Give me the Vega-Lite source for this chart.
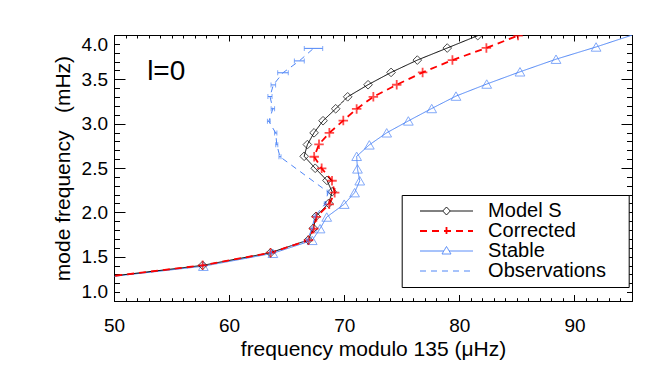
{
  "$schema": "https://vega.github.io/schema/vega-lite/v6.json",
  "width": 518,
  "height": 266,
  "autosize": {"type": "none"},
  "padding": {"left": 114, "top": 35, "right": 33, "bottom": 73},
  "background": "white",
  "config": {
    "view": {"stroke": "black", "strokeWidth": 1},
    "font": "Liberation Sans",
    "axis": {"labelFont": "Liberation Sans", "titleFont": "Liberation Sans", "labelColor": "black", "titleColor": "black", "tickColor": "black", "tickWidth": 1, "domain": false, "grid": false, "titleFontWeight": "normal", "labelOverlap": false}
  },
  "data": {"values": [
    {"s": "Stable", "x": 47.0, "y": 1.235},
    {"s": "Stable", "x": 57.76, "y": 1.392},
    {"s": "Stable", "x": 63.8, "y": 1.538},
    {"s": "Stable", "x": 67.22, "y": 1.684},
    {"s": "Stable", "x": 67.9, "y": 1.816},
    {"s": "Stable", "x": 68.48, "y": 1.947},
    {"s": "Stable", "x": 70.0, "y": 2.092},
    {"s": "Stable", "x": 70.9, "y": 2.222},
    {"s": "Stable", "x": 71.35, "y": 2.356},
    {"s": "Stable", "x": 71.15, "y": 2.49},
    {"s": "Stable", "x": 71.08, "y": 2.632},
    {"s": "Stable", "x": 72.18, "y": 2.761},
    {"s": "Stable", "x": 73.69, "y": 2.897},
    {"s": "Stable", "x": 75.57, "y": 3.031},
    {"s": "Stable", "x": 77.6, "y": 3.171},
    {"s": "Stable", "x": 79.71, "y": 3.311},
    {"s": "Stable", "x": 82.38, "y": 3.447},
    {"s": "Stable", "x": 85.27, "y": 3.585},
    {"s": "Stable", "x": 88.4, "y": 3.727},
    {"s": "Stable", "x": 91.88, "y": 3.865},
    {"s": "Stable", "x": 96.2, "y": 4.05},
    {"s": "Model S", "x": 47.0, "y": 1.237},
    {"s": "Model S", "x": 57.7, "y": 1.402},
    {"s": "Model S", "x": 63.6, "y": 1.545},
    {"s": "Model S", "x": 66.88, "y": 1.688},
    {"s": "Model S", "x": 67.32, "y": 1.82},
    {"s": "Model S", "x": 67.55, "y": 1.955},
    {"s": "Model S", "x": 68.65, "y": 2.101},
    {"s": "Model S", "x": 68.95, "y": 2.232},
    {"s": "Model S", "x": 68.5, "y": 2.36},
    {"s": "Model S", "x": 67.48, "y": 2.497},
    {"s": "Model S", "x": 66.52, "y": 2.632},
    {"s": "Model S", "x": 66.8, "y": 2.764},
    {"s": "Model S", "x": 67.38, "y": 2.897},
    {"s": "Model S", "x": 68.16, "y": 3.033},
    {"s": "Model S", "x": 69.26, "y": 3.168},
    {"s": "Model S", "x": 70.3, "y": 3.303},
    {"s": "Model S", "x": 72.07, "y": 3.439},
    {"s": "Model S", "x": 74.07, "y": 3.578},
    {"s": "Model S", "x": 76.35, "y": 3.717},
    {"s": "Model S", "x": 78.95, "y": 3.853},
    {"s": "Model S", "x": 81.6, "y": 3.993},
    {"s": "Model S", "x": 84.5, "y": 4.13},
    {"s": "Observations", "x": 63.6, "y": 1.543, "lo": 63.52, "hi": 63.68},
    {"s": "Observations", "x": 66.8, "y": 1.686, "lo": 66.72, "hi": 66.88},
    {"s": "Observations", "x": 67.2, "y": 1.818, "lo": 67.12, "hi": 67.28},
    {"s": "Observations", "x": 67.45, "y": 1.955, "lo": 67.37, "hi": 67.53},
    {"s": "Observations", "x": 68.35, "y": 2.097, "lo": 68.27, "hi": 68.43},
    {"s": "Observations", "x": 68.6, "y": 2.228, "lo": 68.52, "hi": 68.68},
    {"s": "Observations", "x": 64.42, "y": 2.627, "lo": 64.33, "hi": 64.51},
    {"s": "Observations", "x": 64.14, "y": 2.763, "lo": 64.05, "hi": 64.23},
    {"s": "Observations", "x": 64.05, "y": 2.894, "lo": 63.95, "hi": 64.15},
    {"s": "Observations", "x": 63.45, "y": 3.027, "lo": 63.33, "hi": 63.57},
    {"s": "Observations", "x": 63.8, "y": 3.168, "lo": 63.65, "hi": 63.95},
    {"s": "Observations", "x": 63.55, "y": 3.306, "lo": 63.37, "hi": 63.73},
    {"s": "Observations", "x": 63.84, "y": 3.437, "lo": 63.64, "hi": 64.04},
    {"s": "Observations", "x": 64.68, "y": 3.574, "lo": 64.22, "hi": 65.14},
    {"s": "Observations", "x": 66.1, "y": 3.708, "lo": 65.67, "hi": 66.53},
    {"s": "Observations", "x": 67.33, "y": 3.849, "lo": 66.53, "hi": 68.13},
    {"s": "Corrected", "x": 47.0, "y": 1.237},
    {"s": "Corrected", "x": 57.7, "y": 1.402},
    {"s": "Corrected", "x": 63.6, "y": 1.545},
    {"s": "Corrected", "x": 66.9, "y": 1.685},
    {"s": "Corrected", "x": 67.35, "y": 1.815},
    {"s": "Corrected", "x": 67.58, "y": 1.948},
    {"s": "Corrected", "x": 68.7, "y": 2.09},
    {"s": "Corrected", "x": 69.17, "y": 2.222},
    {"s": "Corrected", "x": 68.94, "y": 2.356},
    {"s": "Corrected", "x": 68.04, "y": 2.496},
    {"s": "Corrected", "x": 67.39, "y": 2.627},
    {"s": "Corrected", "x": 67.81, "y": 2.767},
    {"s": "Corrected", "x": 68.71, "y": 2.897},
    {"s": "Corrected", "x": 69.92, "y": 3.035},
    {"s": "Corrected", "x": 71.08, "y": 3.166},
    {"s": "Corrected", "x": 72.53, "y": 3.303},
    {"s": "Corrected", "x": 74.56, "y": 3.439},
    {"s": "Corrected", "x": 76.81, "y": 3.578},
    {"s": "Corrected", "x": 79.4, "y": 3.717},
    {"s": "Corrected", "x": 82.35, "y": 3.854},
    {"s": "Corrected", "x": 85.1, "y": 3.993},
    {"s": "Corrected", "x": 88.3, "y": 4.13}
  ]},
  "layer": [
    {
      "mark": {"type": "line", "clip": true},
      "encoding": {
        "x": {"field": "x", "type": "quantitative", "scale": {"domain": [50, 95], "nice": false, "zero": false},
          "axis": {"orient": "bottom", "values": [50, 60, 70, 80, 90], "format": "d",
            "tickSize": -6.5, "labelPadding": 22, "labelFontSize": 19, "labelFlush": false,
            "title": "frequency modulo 135 (μHz)", "titleFontSize": 21, "titleY": 54, "titleBaseline": "alphabetic"}},
        "y": {"field": "y", "type": "quantitative", "scale": {"domain": [1, 4], "nice": false, "zero": false},
          "axis": {"orient": "left", "values": [1.0, 1.5, 2.0, 2.5, 3.0, 3.5, 4.0], "format": ".1f",
            "tickSize": -11, "labelPadding": 17.5, "labelFontSize": 19, "labelFlush": true,
            "title": "mode frequency\u00a0\u00a0 (mHz)", "titleFontSize": 21, "titleX": -45, "titleY": 133, "titleAngle": -90, "titleAlign": "center", "titleBaseline": "alphabetic"}},
        "color": {"field": "s", "type": "nominal",
          "scale": {"domain": ["Model S", "Corrected", "Stable", "Observations"], "range": ["#000000", "#ff0000", "#4f86f7", "#4f86f7"]},
          "legend": {"title": null, "orient": "none", "legendX": 287.7, "legendY": 160, "direction": "vertical",
            "strokeColor": "black", "fillColor": "white", "padding": 6, "rowPadding": 0,
            "labelFontSize": 20, "labelFont": "Liberation Sans", "labelColor": "black",
            "labelExpr": "datum.label + '   \u200c'",
            "symbolSize": 100, "symbolOffset": 28.8, "labelOffset": 31.6, "symbolStrokeWidth": 1, "symbolFillColor": "transparent",
            "encode": {"symbols": {"update": {
              "shape": {"signal": "datum.value === 'Model S' ? 'M-5.3,0H-0.75M0.75,0H5.3M-0.75,0L0,-0.8L0.75,0L0,0.8Z' : datum.value === 'Corrected' ? 'M-5.3,0H5.3M0,-0.8V0.8' : datum.value === 'Stable' ? 'M-5.3,0H-0.54M0.54,0H5.3M-0.9,0.6L0,-0.9L0.9,0.6Z' : 'M-5.3,0H5.3'"},
              "strokeDash": {"signal": "datum.value === 'Corrected' ? [7,5] : datum.value === 'Observations' ? [6,5] : [1,0]"},
              "strokeWidth": {"signal": "datum.value === 'Corrected' ? 1.8 : 1"},
              "fill": {"value": "transparent"}
            }}}}},
        "strokeDash": {"field": "s", "type": "nominal",
          "scale": {"domain": ["Model S", "Corrected", "Stable", "Observations"], "range": [[1, 0], [7, 5], [1, 0], [6, 5]]}, "legend": null},
        "strokeWidth": {"condition": {"test": "datum.s === 'Corrected'", "value": 1.8}, "value": 1},
        "order": {"field": "y", "type": "quantitative"}
      }
    },
    {
      "transform": [{"filter": "datum.s !== 'Observations'"}],
      "mark": {"type": "point", "filled": false, "clip": true},
      "encoding": {
        "x": {"field": "x", "type": "quantitative", "scale": {"domain": [50, 95], "nice": false, "zero": false},
          "axis": {"orient": "top", "values": [50, 60, 70, 80, 90], "labels": false, "title": null, "tickSize": -6}},
        "y": {"field": "y", "type": "quantitative", "scale": {"domain": [1, 4], "nice": false, "zero": false},
          "axis": {"orient": "right", "values": [1.0, 1.5, 2.0, 2.5, 3.0, 3.5, 4.0], "labels": false, "title": null, "tickSize": -11}},
        "color": {"field": "s", "type": "nominal",
          "scale": {"domain": ["Model S", "Corrected", "Stable", "Observations"], "range": ["#000000", "#ff0000", "#4f86f7", "#4f86f7"]}, "legend": null},
        "shape": {"field": "s", "type": "nominal",
          "scale": {"domain": ["Model S", "Corrected", "Stable"], "range": ["diamond", "M-1,0H1M0,-1V1", "triangle-up"]}, "legend": null},
        "size": {"condition": [{"test": "datum.s === 'Model S'", "value": 75}, {"test": "datum.s === 'Corrected'", "value": 90}], "value": 95},
        "strokeWidth": {"condition": {"test": "datum.s === 'Corrected'", "value": 1.8}, "value": 1}
      }
    },
    {
      "transform": [{"filter": "datum.s === 'Observations'"}],
      "mark": {"type": "rule", "clip": true, "color": "#4f86f7", "strokeWidth": 1},
      "encoding": {
        "x": {"field": "lo", "type": "quantitative", "scale": {"domain": [50, 95], "nice": false, "zero": false},
          "axis": {"orient": "bottom", "values": [50,51,52,53,54,55,56,57,58,59,60,61,62,63,64,65,66,67,68,69,70,71,72,73,74,75,76,77,78,79,80,81,82,83,84,85,86,87,88,89,90,91,92,93,94,95],
            "labels": false, "title": null, "tickSize": -3.3}},
        "x2": {"field": "hi"},
        "y": {"field": "y", "type": "quantitative", "scale": {"domain": [1, 4], "nice": false, "zero": false},
          "axis": {"orient": "left", "values": [1.0,1.1,1.2,1.3,1.4,1.5,1.6,1.7,1.8,1.9,2.0,2.1,2.2,2.3,2.4,2.5,2.6,2.7,2.8,2.9,3.0,3.1,3.2,3.3,3.4,3.5,3.6,3.7,3.8,3.9,4.0],
            "labels": false, "title": null, "tickSize": -5.5}}
      }
    },
    {
      "transform": [{"filter": "datum.s === 'Observations'"}],
      "mark": {"type": "tick", "orient": "vertical", "clip": true, "color": "#4f86f7", "size": 5, "thickness": 1},
      "encoding": {
        "x": {"field": "lo", "type": "quantitative", "scale": {"domain": [50, 95], "nice": false, "zero": false},
          "axis": {"orient": "top", "values": [50,51,52,53,54,55,56,57,58,59,60,61,62,63,64,65,66,67,68,69,70,71,72,73,74,75,76,77,78,79,80,81,82,83,84,85,86,87,88,89,90,91,92,93,94,95],
            "labels": false, "title": null, "tickSize": -3}},
        "y": {"field": "y", "type": "quantitative", "scale": {"domain": [1, 4], "nice": false, "zero": false},
          "axis": {"orient": "right", "values": [1.0,1.1,1.2,1.3,1.4,1.5,1.6,1.7,1.8,1.9,2.0,2.1,2.2,2.3,2.4,2.5,2.6,2.7,2.8,2.9,3.0,3.1,3.2,3.3,3.4,3.5,3.6,3.7,3.8,3.9,4.0],
            "labels": false, "title": null, "tickSize": -5.5}}
      }
    },
    {
      "transform": [{"filter": "datum.s === 'Observations'"}],
      "mark": {"type": "tick", "orient": "vertical", "clip": true, "color": "#4f86f7", "size": 5, "thickness": 1},
      "encoding": {
        "x": {"field": "hi", "type": "quantitative", "scale": {"domain": [50, 95], "nice": false, "zero": false}, "axis": null},
        "y": {"field": "y", "type": "quantitative", "scale": {"domain": [1, 4], "nice": false, "zero": false}, "axis": null}
      }
    },
    {
      "data": {"values": [{"label": "l=0", "x": 52.88, "y": 3.492}]},
      "mark": {"type": "text", "align": "left", "baseline": "alphabetic", "fontSize": 28, "font": "Liberation Sans", "color": "black"},
      "encoding": {
        "x": {"field": "x", "type": "quantitative", "scale": {"domain": [50, 95], "nice": false, "zero": false}, "axis": null},
        "y": {"field": "y", "type": "quantitative", "scale": {"domain": [1, 4], "nice": false, "zero": false}, "axis": null},
        "text": {"field": "label"}
      }
    }
  ],
  "resolve": {"axis": {"x": "independent", "y": "independent"}}
}
